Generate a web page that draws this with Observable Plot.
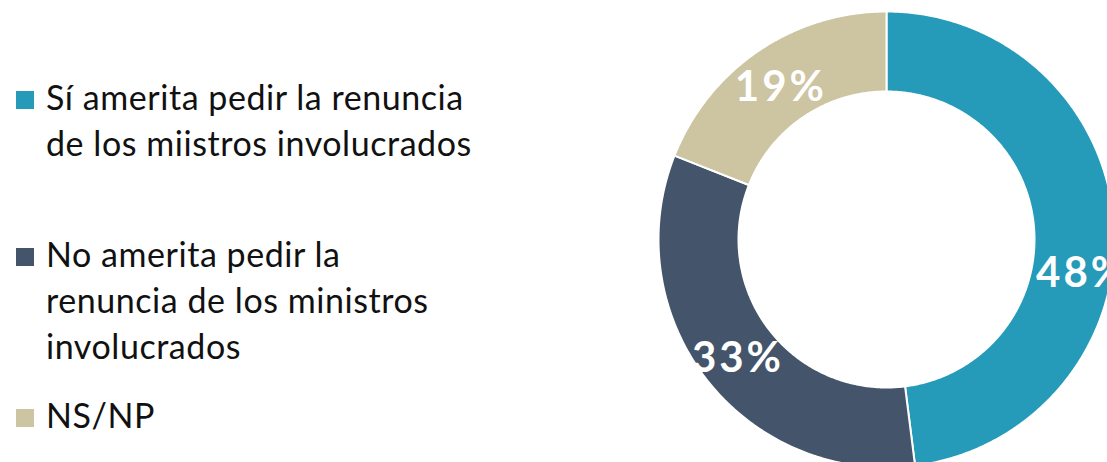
<!DOCTYPE html>
<html>
<head>
<meta charset="utf-8">
<script src="https://cdn.jsdelivr.net/npm/d3@7"></script>
<script src="https://cdn.jsdelivr.net/npm/@observablehq/plot@0.6"></script>
<style>
  html, body { margin: 0; padding: 0; background: #fff; overflow: hidden; }
  #wrap { position: relative; width: 1107px; height: 462px; }
  #chart { position: absolute; left: 0; top: 0; }
  #chart text { letter-spacing: 3px; }
  .entry { position: absolute; left: 16px; display: flex; align-items: flex-start; }
  .sw { width: 18px; height: 18px; margin-top: 17.2px; margin-right: 12px; flex: none; }
  .txt { font-family: Lato, sans-serif; font-size: 34px; letter-spacing: 0.55px; line-height: 46px; color: #111; white-space: pre; }
</style>
</head>
<body>
<div id="wrap">
  <div id="chart"></div>
  <div id="legend"></div>
</div>
<script>
// ---- data ----
const categories = [
  "Sí amerita pedir la renuncia de los miistros involucrados",
  "No amerita pedir la renuncia de los ministros involucrados",
  "NS/NP"
];
const legendLabels = [
  "Sí amerita pedir la renuncia\nde los miistros involucrados",
  "No amerita pedir la\nrenuncia de los ministros\ninvolucrados",
  "NS/NP"
];
const values = [48, 33, 19];
const valueLabels = ["48%", "33%", "19%"];

// ---- style / layout ----
const palette = ["#259BB9", "#44556B", "#CDC4A2"];
const W = 1107, H = 462;
const cx = 886, cy = 239, R = 228;
const innerRatio = 148 / 228;
const legendTops = [73.8, 230.8, 391.8];

// build ring polygons from values
const total = d3.sum(values);
let acc = 0;
const slices = values.map((v, i) => {
  const s = acc / total; acc += v; const e = acc / total;
  return {cat: categories[i], s, e, v, label: valueLabels[i]};
});
const ringPts = [];
for (const sl of slices) {
  const n = Math.max(2, Math.ceil((sl.e - sl.s) * 720));
  for (let k = 0; k <= n; k++) {
    const t = 2 * Math.PI * (sl.s + (sl.e - sl.s) * k / n);
    ringPts.push({cat: sl.cat, x: Math.sin(t), y: Math.cos(t)});
  }
  for (let k = n; k >= 0; k--) {
    const t = 2 * Math.PI * (sl.s + (sl.e - sl.s) * k / n);
    ringPts.push({cat: sl.cat, x: innerRatio * Math.sin(t), y: innerRatio * Math.cos(t)});
  }
}
const labelR = (1 + innerRatio) / 2;
const labelPts = slices.map(sl => {
  const t = 2 * Math.PI * (sl.s + sl.e) / 2;
  return {cat: sl.cat, label: sl.label, x: labelR * Math.sin(t), y: labelR * Math.cos(t)};
});

const plot = Plot.plot({
  width: W, height: H,
  margin: 0,
  style: {fontFamily: "Lato, sans-serif", background: "transparent", overflow: "hidden"},
  x: {domain: [-1, 1], range: [cx - R, cx + R], axis: null},
  y: {domain: [-1, 1], range: [cy + R, cy - R], axis: null},
  color: {domain: categories, range: palette},
  marks: [
    Plot.line(ringPts, {x: "x", y: "y", z: "cat", fill: "cat", stroke: "white", strokeWidth: 2, curve: "linear-closed"}),
    Plot.text(labelPts.slice(1), {x: "x", y: "y", text: "label", fill: "white", fontSize: 42, fontWeight: "bold", dy: 4}),
    Plot.text(labelPts.slice(0, 1), {x: "x", y: "y", text: "label", fill: "white", fontSize: 42, fontWeight: "bold", dx: 8, dy: 46})
  ]
});
document.getElementById("chart").appendChild(plot);

// legend
const legend = document.getElementById("legend");
categories.forEach((c, i) => {
  const e = document.createElement("div");
  e.className = "entry";
  e.style.top = legendTops[i] + "px";
  const sw = document.createElement("div");
  sw.className = "sw";
  sw.style.background = palette[i];
  const tx = document.createElement("div");
  tx.className = "txt";
  tx.textContent = legendLabels[i];
  e.appendChild(sw); e.appendChild(tx);
  legend.appendChild(e);
});
</script>
</body>
</html>
